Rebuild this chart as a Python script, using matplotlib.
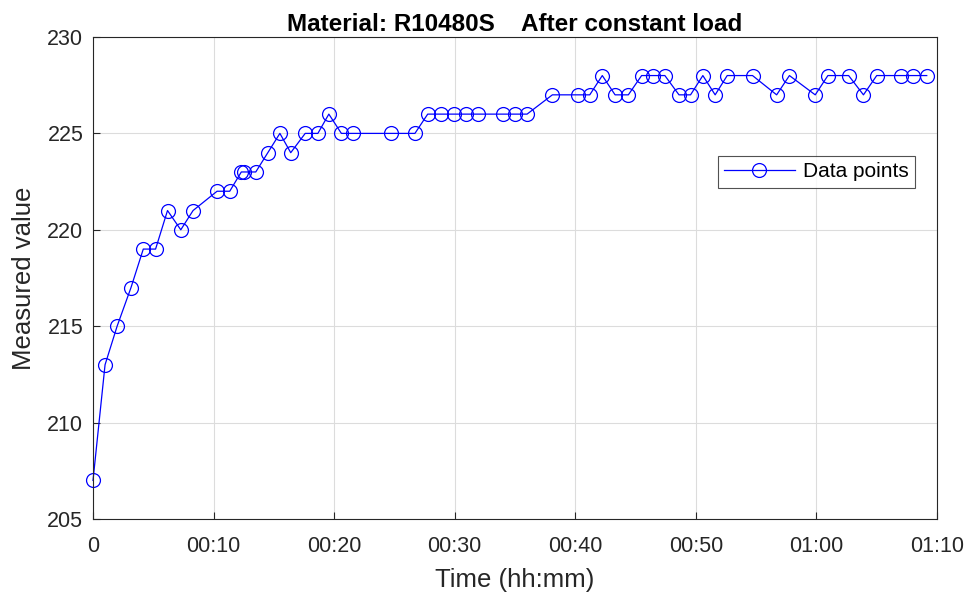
import matplotlib.pyplot as plt

# time in minutes, measured value
minutes = [0, 1.0, 2.0, 3.15, 4.17, 5.19, 6.18, 7.28, 8.3, 10.29, 11.34, 12.3, 12.5,
           13.5, 14.5, 15.5, 16.4, 17.6, 18.65, 19.56, 20.6, 21.55, 24.7, 26.7,
           27.76, 28.87, 29.9, 30.9, 31.9, 34.0, 35.0, 36.0, 38.1, 40.26, 41.2,
           42.24, 43.3, 44.4, 45.5, 46.44, 47.43, 48.6, 49.56, 50.58, 51.6, 52.6,
           54.7, 56.7, 57.76, 59.9, 60.95, 62.67, 63.9, 65.0, 67.0, 68.05, 69.15]
values = [207, 213, 215, 217, 219, 219, 221, 220, 221, 222, 222, 223, 223,
          223, 224, 225, 224, 225, 225, 226, 225, 225, 225, 225,
          226, 226, 226, 226, 226, 226, 226, 226, 227, 227, 227,
          228, 227, 227, 228, 228, 228, 227, 227, 228, 227, 228,
          228, 227, 228, 227, 228, 228, 227, 228, 228, 228, 228]
tick_pos = [0, 10, 20, 30, 40, 50, 60, 70]
tick_labels = ['0', '00:10', '00:20', '00:30', '00:40', '00:50', '01:00', '01:10']

plt.rcParams['font.family'] = ['Liberation Sans', 'DejaVu Sans']

fig = plt.figure(figsize=(9.71, 5.97), dpi=100)
ax = fig.add_axes([93 / 971, 1 - 519 / 597, 844 / 971, 482 / 597])

ax.plot(minutes, values, color='#0000ff', linewidth=0.9, marker='o', markersize=10,
        markerfacecolor='none', markeredgecolor='#0000ff', markeredgewidth=0.9,
        label='Data points', clip_on=False)

ax.set_xlim(0, 70)
ax.set_ylim(205, 230)
ax.set_xticks(tick_pos)
ax.set_xticklabels(tick_labels)
ax.set_yticks(range(205, 231, 5))
ax.tick_params(direction='in', labelsize=15.5, colors='#262626', length=5,
               top=False, right=False)
ax.tick_params(axis='x', pad=12)
ax.tick_params(axis='y', pad=7)
ax.grid(True, color='#dcdcdc', linewidth=0.8)
ax.set_axisbelow(True)
for s in ax.spines.values():
    s.set_color('#262626')
    s.set_linewidth(0.8)

ax.set_xlabel('Time (hh:mm)', fontsize=18.5, color='#262626', labelpad=8)
ax.set_ylabel('Measured value', fontsize=18.5, color='#262626', labelpad=8)
ax.set_title('Material: R10480S    After constant load', fontsize=17.5,
             fontweight='bold', pad=4)

leg = ax.legend(loc='center', bbox_to_anchor=(0.857, 0.72), fontsize=15,
                fancybox=False, edgecolor='#262626', handlelength=3.4,
                borderpad=0.3, handletextpad=0.4, borderaxespad=0)
leg.get_frame().set_linewidth(0.8)

plt.savefig('out.png', dpi=100)
